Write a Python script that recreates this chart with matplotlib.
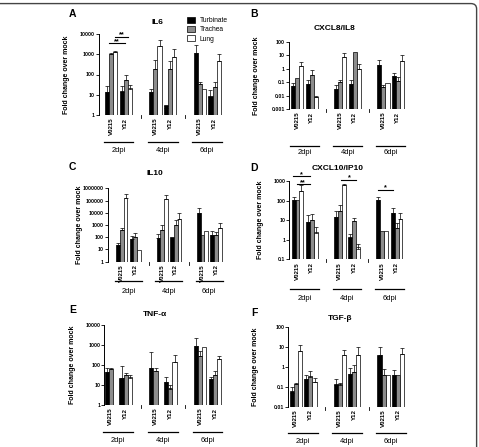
import numpy as np
import matplotlib
matplotlib.use("Agg")
import matplotlib.pyplot as plt
import matplotlib.transforms as mtransforms
from matplotlib.patches import FancyBboxPatch

plt.rcParams['font.family'] = ['Liberation Sans', 'DejaVu Sans']

nan = np.nan
strains = ["V0215", "Y12"]
days = ["2dpi", "4dpi", "6dpi"]
tissues = ["Turbinate", "Trachea", "Lung"]
tissue_colors = ["#000000", "#8c8c8c", "#ffffff"]

# values per bar cluster: 2dpi V0215, 2dpi Y12, 4dpi V0215, 4dpi Y12, 6dpi V0215, 6dpi Y12
# "_hi" = top of the error bar
il6_turbinate = [13, 14, 13, 2.1, 1140, 8.1]
il6_turbinate_hi = [27, 27, 20, 2.8, 2950, 17]
il6_trachea = [1000, 55, 183, 183, 34, 23.5]
il6_trachea_hi = [1100, 95, 500, 440, 42, 42]
il6_lung = [1260, 19.5, 2630, 720, 19, 440]
il6_lung_hi = [1380, 30, 4900, 1900, nan, 1000]

il8_turbinate = [0.05, 0.076, 0.03, 0.072, 1.9, 0.3]
il8_turbinate_hi = [0.093, 0.15, 0.056, 0.15, 4.1, 0.5]
il8_trachea = [0.2, 0.36, 0.1, 16, 0.043, 0.13]
il8_trachea_hi = [nan, 0.78, 0.15, nan, 0.056, 0.25]
il8_lung = [1.5, 0.0074, 7.2, 0.9, 0.084, 3.5]
il8_lung_hi = [3.2, 0.01, 14.6, 2.4, nan, 9.8]

il10_turbinate = [23, 67, 81, 97, 9000, 150]
il10_turbinate_hi = [36, 133, 170, nan, 23000, 320]
il10_trachea = [390, 100, 365, 1000, 150, 150]
il10_trachea_hi = [600, 206, 1000, 2700, nan, 250]
il10_lung = [170000, 8.4, 125000, 3100, 320, 530]
il10_lung_hi = [320000, nan, 280000, 9000, nan, 1350]

ip10_turbinate = [110, 8.4, 14, 1.27, 110, 23]
ip10_turbinate_hi = [145, 18.6, 30, 1.9, 145, 44]
ip10_trachea = [110, 9.9, 30, 9.2, 2.6, 4.1]
ip10_trachea_hi = [nan, 20, 60, 12.5, nan, 7]
ip10_lung = [320, 2.3, 600, 0.32, 2.8, 11.6]
ip10_lung_hi = [650, 4.5, 700, 0.62, nan, 23]

tnf_turbinate = [46, 21.5, 73, 13.5, 890, 19]
tnf_turbinate_hi = [68, 90, 450, 26, 2150, 26]
tnf_trachea = [63, 32, 50, 6, 280, 32]
tnf_trachea_hi = [73, 38, 73, 10, 500, 50]
tnf_lung = [nan, 23, nan, 135, 760, 200]
tnf_lung_hi = [nan, 32, nan, 316, nan, 290]

tgf_turbinate = [0.05, 0.23, 0.12, 0.41, 3.8, 0.38]
tgf_turbinate_hi = [0.1, 0.38, 0.24, 0.83, 10, 0.68]
tgf_trachea = [0.13, 0.32, 0.12, 0.52, 0.38, 0.38]
tgf_trachea_hi = [0.15, 0.6, 0.15, 1.2, 0.76, nan]
tgf_lung = [5.8, 0.165, 3.8, 3.8, 0.38, 4.1]
tgf_lung_hi = [12, 0.28, 6.8, 10, nan, 9]

# significance bars: (x from, x to, y, label)
il6_sig = [(0.27, 1.15, 7400, "**"), (-0.11, 0.93, 3450, "**")]
ip10_sig = [(-0.3, 0.88, 1740, "*"), (-0.06, 0.88, 700, "**"),
            (3.11, 4.17, 1180, "*"), (5.69, 6.75, 360, "*")]

W, H = 479, 447
fig = plt.figure(figsize=(W / 100, H / 100), dpi=100)

# frame around the figure (only top and right edges visible)
fig.patches.append(FancyBboxPatch((-0.05, -0.05), 1.045, 1.042,
                                  boxstyle="round,pad=0,rounding_size=0.012",
                                  transform=fig.transFigure, fill=False,
                                  edgecolor="#444444", linewidth=1.0))

cluster_x = np.array([0, 1, 3, 4, 6, 7])
bw = 0.28


def panel(letter, letter_xy, title, title_xy, ylabel_x, px_box, x0, ymin, ymax,
          ticks, ticklabels, series, sig, uline_y, dlabel_y):
    left, right, top, bottom = px_box
    ax = fig.add_axes([left / W, 1 - bottom / H, (right - left) / W, (bottom - top) / H])
    ax.set_yscale("log")
    handles = []
    for k, (vals, hi) in enumerate(series):
        vals = np.array(vals, float)
        hi = np.array(hi, float)
        xs = cluster_x + (k - 1) * bw
        b = ax.bar(xs, vals, width=bw, bottom=ymin, color=tissue_colors[k],
                   edgecolor="black", linewidth=0.5, label=tissues[k])
        handles.append(b)
        ok = ~np.isnan(hi)
        ax.errorbar(xs[ok], vals[ok], yerr=[np.zeros(ok.sum()), hi[ok] - vals[ok]],
                    fmt="none", ecolor="black", elinewidth=0.5, capsize=1.3,
                    capthick=0.5)
    ax.set_ylim(ymin, ymax)
    ax.set_xlim(x0, 7.5)
    ax.yaxis.set_major_locator(matplotlib.ticker.FixedLocator(ticks))
    ax.yaxis.set_minor_locator(matplotlib.ticker.NullLocator())
    ax.set_yticklabels(ticklabels, fontsize=3.7, fontweight="bold")
    ax.tick_params(axis="y", length=2, width=0.6, pad=0.8)
    ax.set_xticks(cluster_x)
    ax.set_xticklabels(strains * 3, rotation=90, fontsize=4.4, fontweight="bold")
    ax.tick_params(axis="x", which="major", length=0, pad=2)
    for s in ["top", "right", "bottom"]:
        ax.spines[s].set_visible(False)
    ax.spines["left"].set_linewidth(0.7)

    # small separator ticks between day groups
    tx = mtransforms.blended_transform_factory(ax.transData, ax.transAxes)
    for sx in [2, 5]:
        ax.plot([sx, sx], [0, -0.04], transform=tx, color="black",
                linewidth=0.6, clip_on=False)

    ax.set_ylabel("Fold change over mock", fontsize=5.0, fontweight="bold")
    ax.yaxis.set_label_coords(ylabel_x / W, 0.5,
                              transform=mtransforms.blended_transform_factory(
                                  fig.transFigure, ax.transAxes))
    fig.text(title_xy[0] / W, 1 - title_xy[1] / H, title, fontsize=6.0,
             fontweight="bold", ha="center", va="center")
    fig.text(letter_xy[0] / W, 1 - letter_xy[1] / H, letter, fontsize=7.5,
             fontweight="bold", ha="center", va="center")
    for (xa, xb, yv, lab) in sig:
        ax.plot([xa, xb], [yv, yv], color="black", linewidth=0.8, clip_on=False)
        ax.text((xa + xb) / 2, yv, lab, ha="center", va="baseline",
                fontsize=5.2, fontweight="bold")
    tr = mtransforms.blended_transform_factory(ax.transData, fig.transFigure)
    for g, d in enumerate(days):
        gx = g * 3
        ax.plot([gx - 0.5, gx + 1.5], [1 - uline_y / H] * 2, transform=tr,
                color="black", linewidth=0.9, clip_on=False)
        ax.text(gx + 0.5, 1 - dlabel_y / H, d, transform=tr, ha="center",
                va="center", fontsize=5.4)
    return ax, handles


axA, hA = panel("A", (72, 14), "IL6", (157, 23), 69.5, (99, 222, 34, 115), -0.81, 1, 10000,
                [1, 10, 100, 1000, 10000], ["1", "10", "100", "1000", "10000"],
                [(il6_turbinate, il6_turbinate_hi), (il6_trachea, il6_trachea_hi),
                 (il6_lung, il6_lung_hi)], il6_sig, 142, 150)

panel("B", (254, 14), "CXCL8/IL8", (335, 28), 259.5, (289, 405, 41.7, 109), -0.59, 0.001, 100,
      [0.001, 0.01, 0.1, 1, 10, 100], ["0.001", "0.01", "0.1", "1", "10", "100"],
      [(il8_turbinate, il8_turbinate_hi), (il8_trachea, il8_trachea_hi),
       (il8_lung, il8_lung_hi)], [], 145.7, 153)

panel("C", (72, 167), "IL10", (155, 173), 83, (108, 222.7, 188.3, 261.7), -1.03, 1, 1000000,
      [1, 10, 100, 1000, 10000, 100000, 1000000],
      ["1", "10", "100", "1000", "10000", "100000", "1000000"],
      [(il10_turbinate, il10_turbinate_hi), (il10_trachea, il10_trachea_hi),
       (il10_lung, il10_lung_hi)], [], 281, 291.7)

panel("D", (254, 167.7), "CXCL10/IP10", (338, 169), 264, (289.3, 403.6, 181, 259.3), -0.58, 0.1, 1000,
      [0.1, 1, 10, 100, 1000], ["0.1", "1", "10", "100", "1000"],
      [(ip10_turbinate, ip10_turbinate_hi), (ip10_trachea, ip10_trachea_hi),
       (ip10_lung, ip10_lung_hi)], ip10_sig, 289, 298)

panel("E", (72.3, 310), "TNF-α", (155, 315), 75.7, (104.3, 222.5, 325, 405), -0.44, 1, 10000,
      [1, 10, 100, 1000, 10000], ["1", "10", "100", "1000", "10000"],
      [(tnf_turbinate, tnf_turbinate_hi), (tnf_trachea, tnf_trachea_hi),
       (tnf_lung, tnf_lung_hi)], [], 431.7, 440.7)

panel("F", (254, 313), "TGF-β", (340, 319), 259.3, (288.3, 405.6, 326.7, 406.7), -0.51, 0.01, 100,
      [0.01, 0.1, 1, 10, 100], ["0.01", "0.1", "1", "10", "100"],
      [(tgf_turbinate, tgf_turbinate_hi), (tgf_trachea, tgf_trachea_hi),
       (tgf_lung, tgf_lung_hi)], [], 432.7, 441.7)

fig.legend(handles=hA, labels=tissues, loc="upper left",
           bbox_to_anchor=(184 / W, 1 - 14 / H), frameon=False, fontsize=4.8,
           handlelength=1.1, handleheight=0.9, handletextpad=0.8,
           labelspacing=0.3, borderpad=0)

fig.savefig("out.png", dpi=100)
